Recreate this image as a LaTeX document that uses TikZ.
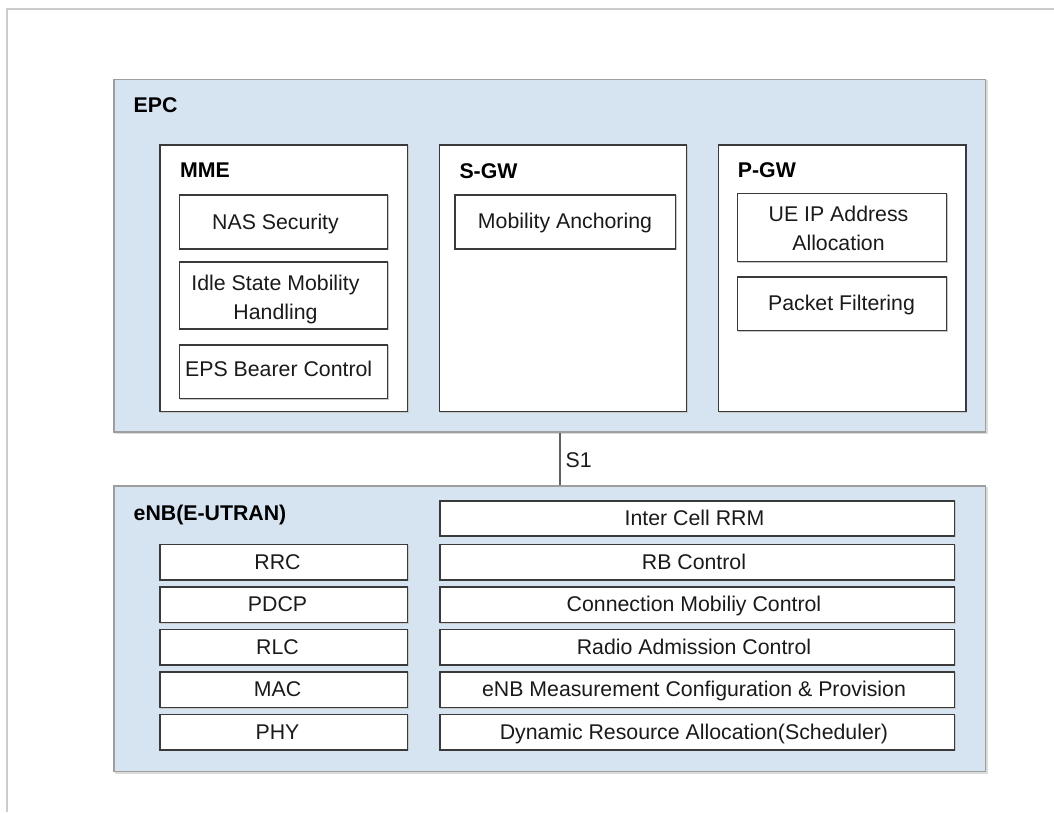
\documentclass[tikz,border=0pt]{standalone}
\usepackage{fontspec}
\setmainfont{Liberation Sans}
\definecolor{panelfill}{RGB}{214,227,240}
\definecolor{panelline}{RGB}{158,158,158}
\definecolor{boxline}{RGB}{58,58,58}
\definecolor{frameline}{RGB}{204,204,204}
\definecolor{txtc}{RGB}{26,26,26}
\begin{document}
\begin{tikzpicture}[x=1pt,y=-1pt,
  panel/.style={draw=panelline, line width=1.5pt, fill=panelfill, inner sep=0pt,
    preaction={draw=black!14, line width=1.5pt, transform canvas={xshift=1.5pt,yshift=-1.5pt}}},
  ibox/.style={draw=boxline, line width=1.4pt, fill=white, inner sep=0pt,
    preaction={draw=black!22, line width=1.2pt, transform canvas={xshift=0.8pt,yshift=-0.8pt}}},
  lbl/.style={font=\fontsize{21.3}{29}\selectfont, text=txtc, inner sep=0pt, anchor=base},
  ttl/.style={font=\fontsize{21.3}{25}\selectfont\bfseries, text=black, inner sep=0pt, anchor=base west},
  ml/.style={font=\fontsize{21.3}{29}\selectfont, text=txtc, inner sep=0pt, align=center}
]
\useasboundingbox (0,0) rectangle (1054,812);
% outer frame (cropped)
\draw[frameline, line width=2pt] (6.5,812) -- (6.5,9) -- (1054,9);

% panels
\node[panel, minimum width=871.5pt, minimum height=352.5pt] (epc) at (549.75,255.75) {};
\node[panel, minimum width=871.5pt, minimum height=285.5pt] (enb) at (549.75,628.75) {};

% S1 connector
\draw[draw={rgb,255:red,96;green,96;blue,96}, line width=1.5pt] (epc.south -| 560,0) -- (enb.north -| 560,0);
\node[lbl, anchor=base west] (s1) at (565.5,467.7) {S1};

\node[ttl] (epct) at (133.5,112.5) {EPC};
\node[ttl] (enbt) at (133.5,520) {eNB(E-UTRAN)};

% EPC entities
\node[ibox, minimum width=247.5pt, minimum height=266.5pt] (mme) at (283.75,278.25) {};
\node[ibox, minimum width=247pt, minimum height=266.5pt] (sgw) at (563,278.25) {};
\node[ibox, minimum width=247.5pt, minimum height=266.5pt] (pgw) at (842.25,278.25) {};
\node[ttl] (mmet) at (180,177.7) {MME};
\node[ttl] (sgwt) at (459.3,178) {S-GW};
\node[ttl] (pgwt) at (737.7,177.7) {P-GW};

% MME functions
\node[ibox, minimum width=208pt, minimum height=54pt] (nas) at (283.5,222) {};
\node[ibox, minimum width=208pt, minimum height=67pt] (idle) at (283.5,295.5) {};
\node[ibox, minimum width=208pt, minimum height=53.5pt] (eps) at (283.5,371.75) {};
\node[lbl] (nast) at (275.5,229.3) {NAS Security};
\node[ml] (idlet) at (275.5,299.2) {Idle State Mobility\\Handling};
\node[lbl] (epst) at (278.7,376.7) {EPS Bearer Control};

% S-GW functions
\node[ibox, minimum width=220.5pt, minimum height=54pt] (mob) at (565.25,222) {};
\node[lbl] (mobt) at (565,228.3) {Mobility Anchoring};

% P-GW functions
\node[ibox, minimum width=209pt, minimum height=68pt] (ueip) at (842,227.5) {};
\node[ibox, minimum width=209pt, minimum height=53.5pt] (pkt) at (842,303.75) {};
\node[ml] (ueipt) at (838.5,228.7) {UE IP Address\\Allocation};
\node[lbl] (pktt) at (841.5,310) {Packet Filtering};

% eNB protocol stack
\foreach \n/\t/\y/\b in {rrc/RRC/562.25/569.5, pdcp/PDCP/604.75/611.9, rlc/RLC/647.25/654.2, mac/MAC/689.75/696.5, phy/PHY/732.25/739}{
  \node[ibox, minimum width=247.5pt, minimum height=35.5pt] (\n) at (283.75,\y) {};
  \node[lbl] (\n t) at (277.5,\b) {\t};
}

% eNB functions
\node[ibox, minimum width=514.5pt, minimum height=35pt] (icrrm) at (697.25,518.5) {};
\node[lbl] (icrrmt) at (694.5,525.7) {Inter Cell RRM};
\foreach \n/\t/\y/\b in {rbc/RB Control/562.25/569.5, cmc/Connection Mobiliy Control/604.75/611.9, rac/Radio Admission Control/647.25/654.2, emc/eNB Measurement Configuration \& Provision/689.75/696.5, dra/Dynamic Resource Allocation(Scheduler)/732.25/739}{
  \node[ibox, minimum width=514.5pt, minimum height=35.5pt] (\n) at (697.25,\y) {};
  \node[lbl] (\n t) at (694,\b) {\t};
}
\end{tikzpicture}
\end{document}
